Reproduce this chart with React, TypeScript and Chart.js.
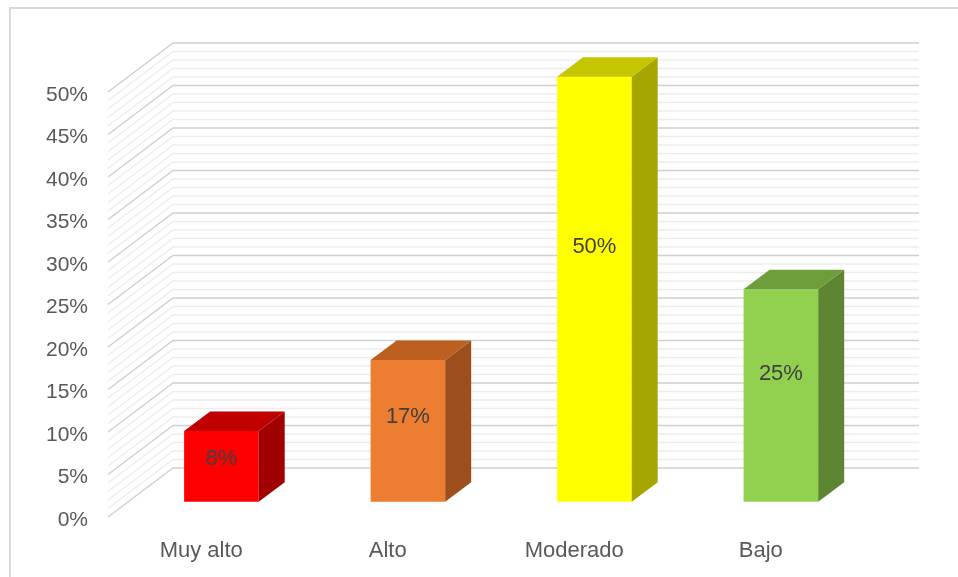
import React, { useEffect, useRef } from "react";
import { Chart, registerables } from "chart.js";

Chart.register(...registerables);

const categories = ["Muy alto", "Alto", "Moderado", "Bajo"];
const values = [8.33, 16.67, 50, 25];
const yMin = 0;
const yMax = 50;
const yStep = 5;
const minorStep = 1;

const frontColors = ["#FF0000", "#ED7D31", "#FFFF00", "#92D050"];
const topColors = ["#C00000", "#BE5F22", "#C6C600", "#6E9E3C"];
const sideColors = ["#A00000", "#9C4F1C", "#A6A600", "#5E8531"];

const FONT = "'Liberation Sans', Arial, sans-serif";
const TEXT_COLOR = "#595959";
const LABEL_COLOR = "#404040";

// 3D geometry (projection of depth axis)
const DEPTH_DX = 65;
const DEPTH_DY = -49;
const BAR_FRONT = 0.31; // fraction of depth where bar front face sits
const BAR_DEPTH = 0.4; // fraction of depth that bars occupy

const threeD = {
  id: "threeD",
  beforeDraw(chart: any) {
    const ctx = chart.ctx;
    ctx.save();
    ctx.fillStyle = "#D9D9D9";
    ctx.fillRect(9, 7, 949, 2);
    ctx.fillRect(9, 7, 2, 570);
    ctx.restore();
  },
  beforeDatasetsDraw(chart: any) {
    const ctx = chart.ctx;
    const y = chart.scales.y;
    const L = chart.chartArea.left;
    const R = chart.chartArea.right;
    ctx.save();
    const drawLine = (v: number, color: string, w: number) => {
      const py = y.getPixelForValue(v);
      ctx.strokeStyle = color;
      ctx.lineWidth = w;
      ctx.beginPath();
      ctx.moveTo(L, py);
      ctx.lineTo(L + DEPTH_DX, py + DEPTH_DY);
      ctx.lineTo(R + DEPTH_DX, py + DEPTH_DY);
      ctx.stroke();
    };
    for (let v = yMin; v <= yMax + 1e-9; v += minorStep) {
      if (Math.abs(v % yStep) > 1e-9) drawLine(v, "#EDEDED", 1.3);
    }
    for (let v = yMin; v <= yMax + 1e-9; v += yStep) {
      drawLine(v, "#D0D0D0", 1.5);
    }
    ctx.restore();
    ctx.save();
    ctx.translate(DEPTH_DX * BAR_FRONT, DEPTH_DY * BAR_FRONT);
  },
  afterDatasetsDraw(chart: any) {
    const ctx = chart.ctx;
    const meta = chart.getDatasetMeta(0);
    const bdx = DEPTH_DX * BAR_DEPTH;
    const bdy = DEPTH_DY * BAR_DEPTH;
    meta.data.forEach((el: any, i: number) => {
      const { x, y, base, width } = el.getProps(["x", "y", "base", "width"], true);
      const l = x - width / 2;
      const r = x + width / 2;
      // side
      ctx.fillStyle = sideColors[i];
      ctx.beginPath();
      ctx.moveTo(r, y);
      ctx.lineTo(r + bdx, y + bdy);
      ctx.lineTo(r + bdx, base + bdy);
      ctx.lineTo(r, base);
      ctx.closePath();
      ctx.fill();
      // top
      ctx.fillStyle = topColors[i];
      ctx.beginPath();
      ctx.moveTo(l, y);
      ctx.lineTo(l + bdx, y + bdy);
      ctx.lineTo(r + bdx, y + bdy);
      ctx.lineTo(r, y);
      ctx.closePath();
      ctx.fill();
      // label
      ctx.fillStyle = LABEL_COLOR;
      ctx.font = `22px ${FONT}`;
      ctx.textAlign = "center";
      ctx.textBaseline = "middle";
      const ly = base - 0.6 * (base - y);
      ctx.fillText(Math.round(values[i]) + "%", x, ly);
    });
    ctx.restore();
  },
};

export default function App() {
  const ref = useRef<HTMLCanvasElement>(null);
  useEffect(() => {
    if (!ref.current) return;
    const chart = new Chart(ref.current, {
      type: "bar",
      data: {
        labels: categories,
        datasets: [
          {
            data: values,
            backgroundColor: frontColors,
            borderWidth: 0,
            barPercentage: 0.4,
            categoryPercentage: 1,
            clip: false as any,
          },
        ],
      },
      options: {
        animation: false,
        responsive: false,
        events: [],
        layout: { padding: { left: 0, right: 104, top: 92, bottom: 0 } },
        plugins: { legend: { display: false }, tooltip: { enabled: false } },
        scales: {
          x: {
            grid: { display: false, drawTicks: false },
            border: { display: false },
            ticks: { color: TEXT_COLOR, font: { family: FONT, size: 22 }, padding: 21 },
            afterFit: (s: any) => {
              s.height = 60;
            },
          },
          y: {
            min: yMin,
            max: yMax,
            grid: { display: false, drawTicks: false },
            border: { display: false },
            ticks: {
              stepSize: yStep,
              color: TEXT_COLOR,
              font: { family: FONT, size: 21 },
              padding: 20,
              labelOffset: 3,
              callback: (v: any) => v + "%",
            },
            afterFit: (s: any) => {
              s.width = 108;
            },
          },
        },
      },
      plugins: [threeD],
    });
    return () => chart.destroy();
  }, []);
  return (
    <div style={{ position: "absolute", left: 0, top: 0, width: 958, height: 577 }}>
      <canvas ref={ref} width={958} height={577} />
    </div>
  );
}
